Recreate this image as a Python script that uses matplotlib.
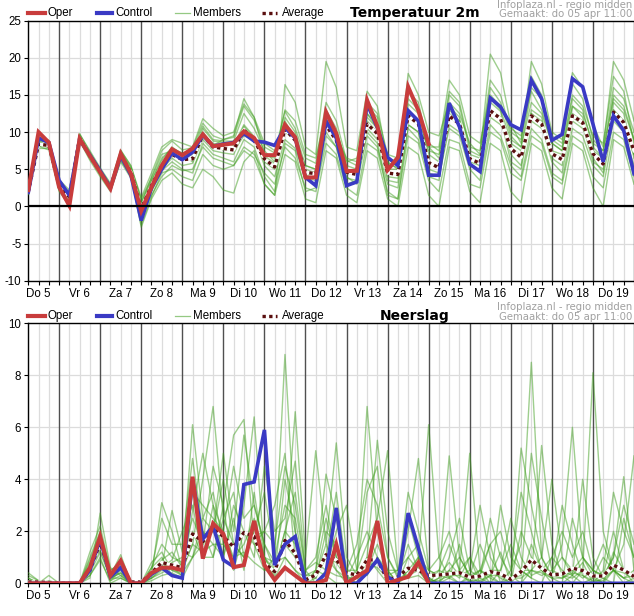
import numpy as np
import matplotlib
matplotlib.use("Agg")
import matplotlib.pyplot as plt
from matplotlib.lines import Line2D

# data (6-hourly, start do 5 06:00)
days = ["Do 5", "Vr 6", "Za 7", "Zo 8", "Ma 9", "Di 10", "Wo 11", "Do 12",
        "Vr 13", "Za 14", "Zo 15", "Ma 16", "Di 17", "Wo 18", "Do 19"]
n_steps = 60

temp_oper = [2.2, 10.0, 8.6, 2.6, 0.1, 9.1, 6.8, 4.6, 2.4, 7.1, 4.4, -0.6, 2.6, 5.5, 7.7, 6.9, 7.8, 9.7, 8.1, 8.3,
             8.5, 10.1, 9.2, 6.9, 6.9, 11.0, 9.3, 3.9, 3.9, 12.7, 9.8, 4.75, 4.8, 14.3, 10.8, 4.9, 6.6, 16.1, 12.9, 8.4]
temp_ctrl = [1.9, 9.2, 8.6, 3.5, 1.5, 9.0, 6.9, 4.8, 2.5, 6.8, 4.2, -1.9, 2.5, 5.0, 7.2, 6.3, 7.3, 9.6, 8.1, 8.4,
             8.6, 9.8, 8.8, 8.65, 8.2, 10.6, 9.2, 3.9, 2.8, 11.5, 9.2, 2.8, 3.3, 13.8, 10.6, 6.6, 5.5, 12.9, 11.5, 4.2,
             4.2, 13.9, 10.7, 5.7, 4.7, 14.6, 13.4, 11.0, 10.3, 17.0, 14.5, 8.9, 9.7, 17.2, 16.1, 11.1, 6.0, 12.2, 10.2, 4.4]
temp_avg = [2.0, 8.4, 8.2, 2.8, 1.3, 9.2, 6.8, 4.6, 2.6, 6.8, 4.6, -0.3, 2.8, 5.5, 7.0, 6.3, 6.4, 9.6, 8.0, 7.8,
            7.6, 10.3, 8.9, 6.4, 5.3, 10.4, 8.9, 4.6, 4.4, 10.9, 8.9, 4.6, 4.3, 11.1, 9.8, 4.5, 4.3, 12.2, 11.1, 5.9,
            5.2, 12.2, 11.1, 6.4, 5.8, 12.9, 11.8, 7.8, 6.6, 12.2, 11.1, 7.1, 6.3, 12.2, 11.3, 7.1, 5.7, 12.7, 11.3, 7.5]

temp_members = [
    [2.3, 9.0, 8.5, 3.2, 1.8, 9.6, 7.2, 5.0, 3.0, 7.4, 5.0, 0.4, 4.0, 7.5, 8.8, 7.6, 7.9, 11.2, 9.5, 9.0,
     9.3, 13.5, 11.6, 8.0, 7.2, 12.8, 10.5, 6.5, 5.8, 14.0, 11.5, 6.2, 5.5, 13.5, 12.0, 5.8, 5.2, 15.5, 14.0, 8.0,
     6.5, 15.0, 13.5, 7.5, 6.8, 16.0, 14.0, 9.5, 8.0, 15.5, 13.0, 8.5, 7.5, 14.5, 13.0, 8.0, 6.5, 15.0, 13.5, 9.0],
    [1.8, 7.8, 7.8, 2.2, 0.5, 8.8, 6.2, 4.0, 2.0, 6.0, 3.8, -1.2, 1.5, 4.0, 5.5, 4.8, 5.0, 8.0, 6.5, 6.0,
     5.5, 8.0, 7.0, 4.5, 3.0, 8.0, 6.5, 2.5, 2.0, 8.5, 7.0, 2.5, 1.5, 8.5, 7.5, 2.0, 1.0, 9.5, 8.5, 3.5,
     2.0, 9.0, 8.5, 3.0, 2.5, 10.0, 9.0, 4.5, 3.5, 9.5, 8.5, 4.0, 3.0, 9.5, 8.5, 4.0, 2.5, 10.0, 9.0, 4.0],
    [2.0, 8.6, 8.0, 3.5, 1.5, 9.3, 6.9, 4.8, 2.8, 7.0, 4.2, -2.8, 1.0, 3.5, 4.5, 3.0, 2.5, 5.0, 4.0, 2.2,
     1.8, 6.0, 7.5, 3.0, 1.5, 16.4, 14.0, 8.0, 7.0, 19.5, 16.0, 8.0, 7.5, 15.5, 13.5, 6.0, 5.0, 17.9, 15.0, 10.0,
     9.5, 14.0, 12.5, 8.5, 7.0, 20.5, 18.0, 11.0, 8.5, 19.5, 16.5, 10.0, 9.0, 18.0, 16.0, 11.0, 8.0, 19.5, 17.0, 11.5],
    [2.2, 8.2, 8.3, 3.0, 1.0, 9.0, 7.0, 4.4, 2.4, 6.6, 4.8, 0.0, 3.4, 6.2, 8.0, 7.0, 6.0, 10.5, 8.8, 8.6,
     8.2, 11.0, 9.4, 5.5, 4.0, 9.0, 7.8, 3.8, 3.5, 11.5, 9.5, 5.0, 4.6, 12.5, 10.5, 3.5, 3.2, 13.8, 12.5, 7.0,
     6.0, 13.5, 12.0, 5.5, 4.8, 14.0, 12.8, 7.0, 5.5, 13.0, 12.0, 6.5, 5.5, 13.5, 12.0, 6.5, 4.5, 14.0, 12.5, 6.5],
    [1.9, 8.0, 8.6, 2.5, 1.2, 9.5, 6.5, 4.6, 2.7, 6.9, 4.4, -0.6, 2.2, 5.0, 6.5, 5.5, 5.8, 9.0, 7.5, 7.2,
     7.0, 10.0, 8.6, 6.8, 5.8, 11.0, 9.5, 4.0, 4.8, 10.0, 8.0, 3.8, 3.5, 10.5, 9.0, 4.0, 3.8, 11.0, 10.0, 5.0,
     4.5, 11.0, 10.0, 6.0, 5.5, 12.0, 11.0, 8.5, 7.5, 11.5, 10.5, 7.5, 7.0, 11.5, 10.5, 7.5, 6.5, 12.0, 10.5, 7.0],
    [2.1, 8.8, 8.1, 2.6, 1.4, 9.1, 6.6, 4.5, 2.5, 6.5, 4.5, -0.8, 2.5, 5.5, 6.8, 6.5, 7.0, 9.5, 8.5, 8.0,
     7.5, 9.5, 9.0, 6.0, 5.0, 10.0, 9.0, 5.5, 5.0, 11.0, 9.0, 4.0, 3.0, 9.5, 8.0, 3.0, 2.5, 10.5, 9.0, 4.5,
     4.0, 10.5, 9.5, 5.0, 3.5, 11.0, 9.5, 5.5, 4.0, 10.5, 9.0, 4.5, 3.5, 10.5, 9.5, 5.5, 4.0, 11.5, 10.0, 5.5],
    [1.7, 8.3, 7.9, 3.0, 1.6, 9.4, 7.0, 4.7, 2.9, 7.2, 5.2, 1.0, 3.8, 7.0, 7.5, 6.8, 7.5, 10.8, 9.0, 8.8,
     8.8, 12.5, 10.5, 7.5, 6.0, 12.0, 10.0, 5.5, 5.0, 13.0, 10.5, 5.5, 5.0, 12.5, 11.0, 5.0, 5.0, 14.5, 13.0, 8.5,
     7.5, 15.5, 14.0, 8.0, 7.5, 17.0, 15.0, 10.0, 9.0, 16.0, 14.5, 9.5, 8.5, 16.5, 14.5, 9.0, 7.5, 16.0, 14.5, 10.0],
    [2.4, 8.5, 8.4, 2.0, 0.2, 9.0, 6.8, 4.2, 2.2, 6.4, 4.0, -1.5, 2.0, 4.8, 6.0, 5.0, 4.5, 8.5, 7.0, 6.5,
     6.0, 9.0, 8.0, 4.0, 2.0, 8.5, 7.5, 2.0, 2.5, 9.5, 8.0, 3.0, 3.5, 10.0, 8.5, 1.5, 1.0, 11.0, 10.0, 4.0,
     3.5, 12.0, 11.0, 6.5, 5.5, 13.0, 12.0, 6.0, 5.0, 12.5, 11.0, 6.0, 4.5, 12.0, 11.0, 6.0, 5.0, 13.0, 11.5, 7.0],
    [2.0, 8.7, 8.8, 3.4, 1.9, 9.8, 7.3, 4.9, 2.6, 7.5, 5.5, 0.6, 3.5, 6.5, 7.8, 7.2, 7.5, 10.0, 8.2, 9.0,
     9.5, 14.5, 12.0, 8.5, 7.5, 11.5, 9.0, 5.0, 4.5, 12.0, 9.5, 6.5, 6.0, 14.0, 12.5, 7.0, 6.5, 13.0, 11.5, 7.5,
     7.0, 13.0, 11.5, 7.0, 6.5, 14.5, 13.0, 9.0, 8.0, 14.0, 12.5, 8.5, 7.5, 13.5, 12.5, 8.5, 7.5, 14.5, 13.0, 9.0],
    [1.6, 8.1, 7.6, 2.4, 0.8, 8.9, 6.4, 4.3, 2.3, 6.2, 4.1, -2.5, 1.3, 4.5, 5.0, 4.0, 3.5, 7.0, 5.5, 5.0,
     5.5, 7.5, 6.5, 3.0, 1.5, 7.0, 6.0, 1.0, 0.5, 7.5, 6.5, 1.5, 0.5, 7.5, 6.5, 1.0, 0.0, 8.0, 7.0, 1.5,
     0.0, 8.0, 7.5, 2.0, 0.5, 8.5, 7.5, 2.0, 0.5, 8.5, 7.5, 2.5, 1.0, 8.5, 7.5, 2.5, 0.0, 9.0, 8.0, 3.0],
    [2.2, 8.4, 8.2, 2.9, 1.1, 9.2, 6.8, 4.6, 2.6, 6.8, 4.6, -0.2, 3.0, 5.8, 7.2, 6.2, 6.6, 9.8, 8.2, 7.6,
     7.6, 10.8, 9.2, 6.5, 5.5, 10.5, 9.0, 4.5, 4.3, 11.0, 9.0, 4.5, 4.2, 11.5, 10.0, 4.5, 4.2, 12.5, 11.5, 6.0,
     5.2, 12.5, 11.5, 6.5, 6.0, 13.0, 12.0, 8.0, 6.8, 12.5, 11.5, 7.2, 6.5, 12.5, 11.5, 7.2, 5.8, 13.0, 11.5, 7.5],
    [2.5, 9.3, 8.9, 3.6, 2.2, 9.7, 7.5, 5.2, 3.1, 7.6, 5.4, 1.2, 4.5, 8.0, 9.0, 8.5, 8.0, 11.8, 10.5, 9.5,
     10.0, 13.8, 12.0, 7.0, 6.5, 13.0, 11.5, 7.0, 6.5, 12.5, 10.0, 6.0, 6.5, 12.0, 10.5, 6.5, 6.0, 12.0, 11.0, 8.0,
     8.0, 17.0, 15.0, 9.5, 8.5, 15.0, 13.5, 10.5, 9.5, 17.5, 15.0, 9.0, 8.0, 15.0, 13.5, 9.5, 8.5, 17.5, 15.5, 8.5],
]

rain_oper = [0, 0, 0, 0, 0, 0, 0.6, 1.8, 0.3, 0.87, 0, 0, 0.4, 0.6, 0.6, 0.5, 4.1, 0.95, 2.3, 1.9,
             0.62, 0.7, 2.4, 0.7, 0.13, 0.6, 0.3, 0, 0, 0.13, 1.5, 0, 0.25, 0.5, 2.4, 0, 0.13, 0.25, 0.8, 0]
rain_ctrl = [0, 0, 0, 0, 0, 0, 0.5, 1.7, 0.25, 0.6, 0, 0, 0.35, 0.6, 0.3, 0.2, 4.0, 1.7, 2.2, 0.9,
             0.64, 3.8, 3.9, 5.9, 0.7, 1.5, 1.8, 0, 0, 0.4, 2.9, 0, 0, 0.4, 0.9, 0.25, 0, 2.7, 1.35, 0,
             0, 0, 0, 0, 0, 0, 0, 0, 0, 0, 0, 0, 0, 0, 0, 0, 0, 0, 0, 0]
rain_avg = [0.05, 0.05, 0.03, 0, 0, 0, 0.5, 1.55, 0.35, 0.6, 0.05, 0.05, 0.4, 0.8, 0.7, 0.6, 1.9, 1.6, 2.1, 1.8,
            1.4, 1.95, 1.8, 0.77, 0.45, 1.65, 1.15, 0.13, 0.32, 1.1, 0.9, 0.4, 0.32, 0.9, 0.9, 0.13, 0.25, 0.58, 0.5, 0.3,
            0.32, 0.36, 0.41, 0.23, 0.28, 0.45, 0.36, 0.15, 0.45, 0.9, 0.58, 0.32, 0.36, 0.58, 0.49, 0.28, 0.28, 0.7, 0.51, 0.26]

rain_members = [
    [0.4, 0.1, 0.0, 0.0, 0.0, 0.0, 1.2, 2.2, 0.5, 0.8, 0.0, 0.0, 0.6, 1.5, 1.0, 0.8, 6.1, 2.5, 3.5, 1.5,
     0.8, 3.0, 6.4, 1.0, 0.5, 2.0, 1.5, 0.0, 0.2, 1.0, 0.5, 0.2, 0.0, 0.5, 1.0, 0.2, 0.0, 0.3, 0.5, 0.0,
     0.2, 4.9, 1.0, 0.3, 0.5, 0.2, 0.0, 0.5, 1.5, 8.5, 1.0, 0.3, 0.2, 0.5, 1.0, 0.3, 0.0, 0.5, 0.2, 0.0],
    [0.1, 0.0, 0.3, 0.0, 0.0, 0.0, 0.8, 1.4, 0.2, 0.4, 0.0, 0.0, 0.3, 3.1, 2.0, 0.5, 1.5, 4.0, 6.8, 2.5,
     1.5, 1.0, 2.0, 3.5, 1.0, 8.8, 2.0, 0.3, 0.5, 2.5, 1.0, 0.5, 0.2, 6.8, 2.0, 0.5, 0.0, 1.0, 1.5, 0.2,
     0.0, 0.5, 0.2, 1.0, 0.0, 0.3, 1.2, 0.0, 0.5, 0.2, 5.3, 1.5, 0.3, 0.0, 0.5, 8.1, 2.0, 0.5, 0.2, 0.5],
    [0.2, 0.0, 0.0, 0.0, 0.0, 0.0, 0.3, 1.0, 0.0, 0.2, 0.0, 0.0, 0.2, 0.5, 0.8, 1.0, 2.5, 1.5, 2.0, 5.0,
     2.0, 5.7, 3.0, 1.5, 0.8, 1.5, 6.6, 1.0, 5.1, 1.5, 5.4, 1.0, 0.3, 1.0, 5.5, 2.0, 0.5, 0.2, 0.8, 6.1,
     1.0, 0.2, 0.5, 5.0, 0.5, 0.3, 0.0, 0.0, 2.0, 1.0, 0.5, 0.2, 1.5, 6.0, 1.0, 0.5, 0.3, 1.0, 4.1, 0.5],
    [0.0, 0.0, 0.0, 0.0, 0.0, 0.0, 0.5, 1.8, 0.3, 1.1, 0.0, 0.0, 0.4, 0.6, 2.8, 1.2, 1.0, 2.0, 1.0, 3.0,
     5.7, 6.3, 1.5, 2.0, 1.5, 4.5, 3.0, 0.5, 0.8, 0.5, 0.3, 0.2, 1.0, 2.0, 1.0, 0.3, 0.2, 2.0, 4.8, 0.5,
     0.3, 0.2, 0.0, 0.3, 1.5, 0.5, 0.2, 0.0, 5.2, 3.0, 1.0, 0.2, 0.0, 0.3, 0.8, 0.0, 0.2, 0.5, 1.5, 4.9],
    [0.1, 0.0, 0.0, 0.0, 0.0, 0.0, 0.6, 1.5, 0.1, 0.5, 0.0, 0.0, 0.8, 1.2, 0.5, 0.3, 3.5, 3.0, 2.5, 2.0,
     1.0, 1.5, 2.5, 1.0, 0.3, 4.0, 2.0, 0.0, 0.5, 4.2, 2.5, 0.5, 0.5, 3.5, 4.5, 1.0, 0.2, 1.5, 0.5, 0.0,
     0.5, 1.5, 0.5, 0.0, 0.2, 2.5, 1.0, 0.3, 0.0, 1.5, 0.5, 0.3, 3.0, 1.5, 0.3, 0.0, 0.5, 3.5, 2.0, 1.0],
    [0.0, 0.0, 0.1, 0.0, 0.0, 0.0, 0.2, 2.7, 0.6, 0.3, 0.0, 0.0, 0.1, 0.3, 0.4, 0.2, 1.0, 1.5, 4.5, 3.0,
     0.5, 2.0, 1.0, 4.5, 2.0, 2.5, 4.7, 0.5, 0.0, 0.5, 2.0, 3.0, 0.5, 1.5, 2.5, 5.1, 0.5, 0.3, 1.0, 0.0,
     0.0, 1.0, 2.5, 0.5, 0.2, 0.0, 3.0, 1.0, 0.5, 0.2, 0.0, 1.0, 0.5, 0.3, 4.0, 1.0, 0.2, 0.0, 2.5, 1.0],
    [0.2, 0.0, 0.0, 0.0, 0.0, 0.0, 1.0, 2.0, 0.4, 0.6, 0.0, 0.0, 0.5, 2.5, 1.5, 1.5, 4.8, 2.0, 1.5, 1.0,
     3.0, 2.0, 1.5, 0.5, 1.0, 3.0, 2.5, 0.2, 0.3, 1.0, 3.5, 0.5, 0.2, 0.5, 0.8, 0.3, 0.5, 1.0, 0.5, 0.2,
     0.0, 0.2, 1.5, 0.0, 0.5, 1.5, 0.0, 0.2, 0.3, 5.0, 2.5, 0.5, 0.3, 0.2, 0.5, 0.2, 0.0, 1.2, 0.5, 0.0],
    [0.0, 0.0, 0.0, 0.0, 0.0, 0.0, 0.4, 1.2, 0.2, 0.2, 0.0, 0.0, 0.2, 0.4, 0.6, 0.3, 2.0, 1.0, 3.0, 1.0,
     2.5, 0.5, 3.5, 1.0, 0.2, 1.0, 0.5, 0.0, 0.5, 0.3, 0.0, 0.0, 0.5, 0.3, 1.0, 0.5, 0.0, 0.5, 1.0, 0.5,
     0.3, 0.8, 0.3, 0.5, 3.0, 1.0, 0.3, 0.0, 0.0, 0.5, 1.0, 4.0, 1.0, 0.3, 0.0, 0.2, 1.0, 0.5, 0.2, 0.3],
    [0.3, 0.1, 0.0, 0.0, 0.0, 0.0, 0.7, 1.6, 0.3, 0.9, 0.1, 0.0, 0.3, 0.8, 0.5, 0.4, 1.0, 2.5, 2.0, 4.0,
     1.5, 1.0, 1.8, 2.0, 3.0, 5.0, 1.0, 0.2, 0.2, 2.0, 1.5, 0.3, 0.0, 1.0, 0.5, 0.0, 0.3, 2.5, 1.0, 0.3,
     0.5, 0.3, 0.0, 0.2, 0.5, 0.0, 0.5, 2.5, 1.0, 0.3, 0.5, 0.0, 0.0, 2.5, 1.0, 0.5, 1.5, 0.5, 0.0, 0.2],
    [0.0, 0.0, 0.0, 0.0, 0.0, 0.0, 0.5, 1.3, 0.2, 0.4, 0.0, 0.0, 0.4, 0.9, 1.2, 0.6, 1.5, 1.2, 1.5, 1.5,
     1.0, 1.2, 0.8, 0.5, 0.5, 1.5, 1.0, 0.3, 0.3, 1.0, 0.8, 0.2, 0.2, 0.8, 0.6, 0.2, 0.1, 0.5, 0.6, 0.1,
     0.1, 0.3, 0.3, 0.1, 0.1, 0.3, 0.3, 0.2, 0.2, 0.5, 0.4, 0.2, 0.2, 0.4, 0.3, 0.1, 0.1, 0.5, 0.4, 0.2],
    [0.1, 0.0, 0.0, 0.0, 0.0, 0.0, 0.9, 1.9, 0.5, 0.7, 0.0, 0.0, 0.6, 1.0, 0.3, 0.2, 2.8, 5.0, 3.0, 2.0,
     4.5, 2.5, 3.0, 1.5, 0.5, 2.0, 3.5, 0.5, 1.0, 3.0, 1.0, 0.5, 1.5, 4.0, 3.0, 1.0, 0.3, 3.5, 2.0, 0.5,
     1.0, 2.0, 0.5, 1.0, 0.3, 1.5, 2.0, 0.5, 3.5, 2.0, 0.5, 1.0, 2.0, 1.0, 2.0, 0.5, 0.2, 1.0, 3.0, 1.5],
    [0.0, 0.0, 0.0, 0.0, 0.0, 0.0, 0.3, 0.9, 0.1, 0.3, 0.0, 0.0, 0.2, 0.6, 0.9, 2.0, 3.0, 1.0, 1.0, 2.5,
     3.5, 1.0, 2.2, 1.0, 0.8, 1.0, 0.5, 0.2, 0.3, 1.5, 0.5, 0.0, 0.2, 0.5, 1.5, 0.5, 0.5, 0.2, 0.3, 0.0,
     0.2, 0.5, 1.0, 0.3, 0.0, 0.5, 0.5, 1.5, 0.5, 0.5, 0.3, 0.5, 1.0, 0.5, 0.2, 0.5, 0.3, 2.0, 0.5, 0.3],
]

for s in temp_members + rain_members + [temp_ctrl, temp_avg, rain_ctrl, rain_avg]:
    assert len(s) == n_steps, len(s)

# kleuren
C_OPER = "#c83c3c"
C_CTRL = "#3a3ac4"
C_MEMB = "#3f9e1e"
C_AVG = "#5a0f0f"

plt.rcParams["font.family"] = ["Liberation Sans", "DejaVu Sans"]

W, H = 634, 616
fig = plt.figure(figsize=(W / 100, H / 100), dpi=100)
fig.patch.set_facecolor("white")


def fx(px):
    return px / W


def fy(py):
    return 1 - py / H


def draw_panel(ax, members, oper, ctrl, avg, ylim, yticks, title, top_px):
    x = np.arange(n_steps)
    for m in members:
        ax.plot(x, m, color=C_MEMB, lw=1.0, alpha=0.5, zorder=3)
    ax.plot(x, avg, color="white", lw=2.4, zorder=4)
    ax.plot(x, avg, color=C_AVG, lw=2.4, ls=(0, (1, 1)), zorder=5)
    ax.plot(x, ctrl, color=C_CTRL, lw=2.6, zorder=6, solid_joinstyle="miter")
    ax.plot(np.arange(len(oper)), oper, color=C_OPER, lw=2.9, zorder=7, solid_joinstyle="miter")

    ax.set_xlim(0, n_steps - 1)
    ax.set_ylim(*ylim)
    ax.set_yticks(yticks)
    ax.set_yticklabels([str(v) for v in yticks])

    # grid: 6-uurs lijnen licht, middernacht donker
    for i in range(n_steps):
        if (i - 3) % 4 == 0:
            ax.axvline(i, color="#505050", lw=1.0, zorder=2)
        else:
            ax.axvline(i, color="#dcdcdc", lw=0.9, zorder=1)
    for v in yticks:
        ax.axhline(v, color="#dcdcdc", lw=0.9, zorder=1)

    ax.set_xticks(np.arange(n_steps))
    labels = [""] * n_steps
    for k, d in enumerate(days):
        labels[1 + 4 * k] = d
    ax.set_xticklabels(labels)
    ax.tick_params(axis="both", direction="out", length=3, width=0.8, pad=2,
                   labelsize=8.3, colors="black")
    for side in ["left", "top", "bottom"]:
        ax.spines[side].set_color("black")
        ax.spines[side].set_linewidth(1.0)
    ax.spines["right"].set_visible(False)

    # legenda boven de grafiek
    ly = fy(top_px - 7.5)
    items = [(28, 45, 48, "Oper", dict(color=C_OPER, lw=3.0)),
             (97, 112, 115, "Control", dict(color=C_CTRL, lw=3.0)),
             (175, 190, 193, "Members", dict(color=C_MEMB, lw=0.9, alpha=0.55)),
             (262, 277, 282, "Average", dict(color=C_AVG, lw=2.4, ls=(0, (1, 1))))]
    for x0, x1, tx, name, kw in items:
        fig.add_artist(Line2D([fx(x0), fx(x1)], [ly, ly], transform=fig.transFigure, **kw))
        fig.text(fx(tx), ly, name, fontsize=8.3, va="center", ha="left")
    fig.text(fx(415), ly, title, fontsize=10, fontweight="bold", family="DejaVu Sans",
             ha="center", va="center")
    fig.text(fx(632), fy(top_px - 16), "Infoplaza.nl - regio midden", fontsize=7.3,
             color="#a0a0a0", ha="right", va="center", family="DejaVu Sans")
    fig.text(fx(632), fy(top_px - 6.5), "Gemaakt: do 05 apr 11:00", fontsize=7.3,
             color="#a0a0a0", ha="right", va="center", family="DejaVu Sans")


ax1 = fig.add_axes([fx(28.3), fy(280.7), fx(634) - fx(28.3), 260 / H])
draw_panel(ax1, temp_members, temp_oper, temp_ctrl, temp_avg, (-10, 25),
           list(range(-10, 26, 5)), "Temperatuur 2m", 20.7)
ax1.axhline(0, color="black", lw=1.6, zorder=8)

ax2 = fig.add_axes([fx(28.3), fy(583.3), fx(634) - fx(28.3), 260 / H])
draw_panel(ax2, rain_members, rain_oper, rain_ctrl, rain_avg, (0, 10),
           list(range(0, 11, 2)), "Neerslag", 323.3)

fig.savefig("out.png", dpi=100)
